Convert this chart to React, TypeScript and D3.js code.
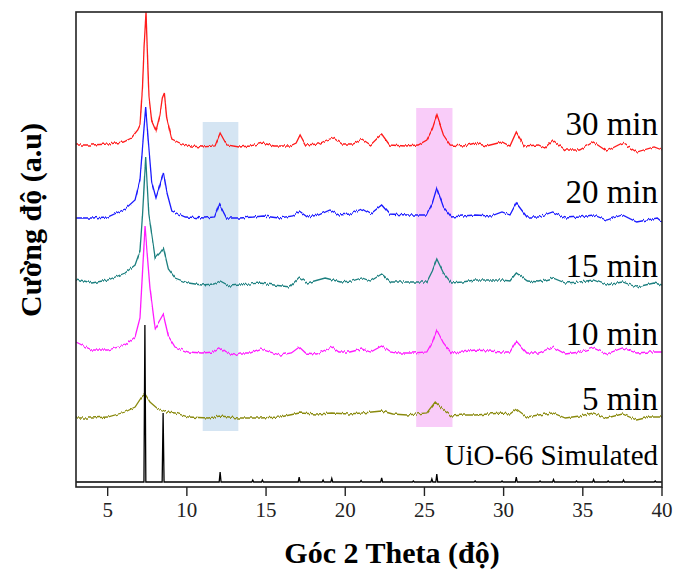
import React from "react";
import * as d3 from "d3";

// ---- Data (2θ in degrees, stacked intensity in a.u.) ----
const xTicks = [5, 10, 15, 20, 25, 30, 35, 40];

const s30: [number, number][] = [
  [3.0, 342], [4.0, 342], [5.0, 343], [6.0, 345], [6.5, 349], [6.9, 357], [7.04, 362], [7.2, 400], [7.3, 440],
  [7.42, 475], [7.55, 415], [7.61, 390], [7.78, 366], [8.05, 356], [8.3, 372], [8.45, 389], [8.58, 394],
  [8.73, 369], [9.05, 348], [9.68, 343], [10.3, 341], [10.94, 340], [11.78, 341], [12.1, 354], [12.52, 342],
  [13.3, 340], [14.0, 341], [14.8, 344], [15.5, 341], [16.5, 341], [16.9, 344], [17.15, 352], [17.5, 342],
  [18.3, 343], [18.84, 347], [19.25, 349], [19.8, 343], [20.5, 343], [21.05, 348], [21.6, 342], [22.3, 353],
  [22.8, 342], [23.8, 341], [24.6, 342], [25.15, 347], [25.5, 358], [25.78, 372], [26.2, 352], [26.63, 342],
  [27.5, 341], [28.2, 344], [28.9, 341], [29.9, 345], [30.4, 341], [30.8, 355], [31.3, 341], [32.2, 342],
  [32.6, 339], [33.1, 347], [33.9, 337], [34.8, 337], [35.66, 345], [36.5, 336], [37.5, 344], [38.4, 335],
  [39.5, 340], [40.0, 337],
];

const s20: [number, number][] = [
  [3.0, 269], [4.0, 269], [5.0, 270], [6.1, 278], [6.73, 287], [7.04, 307], [7.2, 340], [7.4, 380], [7.61, 337],
  [7.78, 305], [8.05, 289], [8.3, 302], [8.52, 314], [8.73, 295], [9.05, 276], [9.9, 270], [11.15, 269],
  [11.75, 270], [12.05, 283], [12.5, 269], [13.36, 269], [14.2, 270], [14.83, 271], [15.8, 269], [16.7, 271],
  [17.1, 276], [17.6, 270], [18.3, 272], [19.04, 277], [19.6, 272], [20.3, 273], [21.05, 278], [21.6, 273],
  [22.3, 282], [22.8, 273], [23.9, 272], [24.8, 272], [25.15, 272], [25.5, 284], [25.78, 299], [26.2, 280],
  [26.7, 270], [27.4, 271], [28.2, 272], [29.2, 271], [29.9, 275], [30.4, 272], [30.8, 284], [31.47, 270],
  [32.2, 270], [33.1, 275], [33.9, 269], [34.8, 270], [35.66, 272], [36.5, 267], [37.5, 272], [38.4, 265],
  [39.7, 269], [40.0, 265],
];

const s15: [number, number][] = [
  [3.0, 208], [4.0, 204], [5.0, 207], [6.1, 214], [6.73, 222], [7.04, 236], [7.2, 272], [7.4, 330], [7.6, 272],
  [8.0, 229], [8.3, 234], [8.52, 239], [8.83, 218], [9.25, 209], [10.1, 204], [10.94, 202], [11.7, 203],
  [12.1, 206], [12.7, 201], [13.36, 202], [14.6, 204], [15.5, 202], [16.5, 200], [17.1, 210], [17.6, 204],
  [18.73, 209], [19.7, 205], [20.4, 206], [21.05, 209], [21.6, 206], [22.3, 213], [22.9, 205], [23.9, 205],
  [24.8, 205], [25.15, 205], [25.5, 216], [25.78, 228], [26.2, 214], [26.7, 204], [27.4, 205], [28.2, 207],
  [29.9, 207], [30.4, 206], [30.8, 214], [31.5, 206], [32.2, 205], [33.1, 209], [33.9, 204], [34.8, 205],
  [35.66, 207], [36.5, 202], [37.5, 205], [38.4, 200], [39.5, 204], [40.0, 202],
];

const s10: [number, number][] = [
  [3.0, 145], [4.0, 137], [5.0, 137], [6.1, 142], [6.73, 150], [7.04, 169], [7.2, 215], [7.36, 261], [7.5, 232],
  [7.67, 199], [8.0, 158], [8.3, 166], [8.52, 172], [8.83, 151], [9.25, 140], [10.1, 135], [10.94, 134],
  [11.7, 135], [12.1, 139], [12.5, 134], [13.0, 132], [13.36, 134], [14.0, 134], [14.6, 138], [15.9, 132],
  [16.6, 134], [17.1, 140], [17.5, 134], [18.2, 133], [19.15, 140], [19.6, 135], [20.3, 135], [21.05, 138],
  [21.6, 135], [22.3, 141], [22.8, 135], [23.26, 134], [24.3, 134], [25.15, 135], [25.5, 145], [25.78, 157],
  [26.2, 144], [26.7, 134], [27.4, 135], [28.2, 137], [29.9, 135], [30.4, 135], [30.8, 146], [31.47, 134],
  [32.2, 134], [33.1, 140], [33.9, 133], [34.8, 135], [35.66, 139], [36.5, 133], [37.5, 139], [38.4, 134],
  [39.2, 135], [40.0, 135],
];

const s5: [number, number][] = [
  [3.0, 69], [4.0, 69], [5.0, 70], [6.1, 75], [6.73, 80], [7.15, 90], [7.36, 93], [7.67, 85], [8.1, 79],
  [8.45, 77], [8.73, 75], [9.25, 74], [10.1, 70], [11.36, 69], [12.1, 71], [13.25, 69], [14.6, 69],
  [15.9, 70], [17.1, 74], [18.2, 73], [19.15, 74], [20.2, 73], [21.05, 74], [22.3, 76], [23.0, 73],
  [23.9, 72], [25.15, 74], [25.68, 85], [26.2, 77], [26.7, 71], [27.5, 72], [28.2, 72], [29.9, 74],
  [30.4, 73], [30.8, 78], [31.47, 70], [32.2, 72], [33.1, 74], [33.9, 69], [34.8, 71], [35.66, 74],
  [36.5, 69], [37.5, 73], [38.4, 67], [39.2, 70], [40.0, 70],
];

// Simulated UiO-66 reflections: [2θ, height above baseline]
const simBase = 5;
const simPeaks: [number, number][] = [
  [7.35, 157], [8.5, 69], [12.1, 10], [14.16, 2], [14.77, 2], [17.09, 5], [18.6, 2], [19.15, 3.5],
  [21.0, 1.5], [22.3, 4], [24.3, 1], [25.47, 3], [25.78, 8], [28.2, 1], [29.9, 1], [30.8, 5], [32.3, 1],
  [33.15, 2.5], [34.6, 1], [35.68, 2.5], [36.6, 1], [37.57, 2], [39.57, 1],
];

const seriesLabels = ["30 min", "20 min", "15 min", "10 min", "5 min"];
const seriesColors = ["#ff1a1a", "#1a1aff", "#1f8080", "#ff1aff", "#8a8a10"];
const seriesData = [s30, s20, s15, s10, s5];
const labelValues = [352, 284, 210, 142, 77]; // label baseline positions (a.u.)
const simLabel = "UiO-66 Simulated";
const simLabelValue = 22;

// Highlight bands: [x0, x1, y0, y1]
const bands: { x0: number; x1: number; y0: number; y1: number; color: string }[] = [
  { x0: 11.0, x1: 13.25, y0: 56, y1: 365, color: "#d5e5f3" },
  { x0: 24.48, x1: 26.77, y0: 60, y1: 379, color: "#f9ccf9" },
];

const W = 675;
const H = 576;
const M = { left: 76, right: 662, top: 12, bottom: 487 };
const FONT = "'Liberation Serif', 'Times New Roman', serif";

export default function App() {
  const x = d3.scaleLinear().domain([3, 40]).range([M.left, M.right]);
  const y = d3.scaleLinear().domain([0, 475]).range([M.bottom, M.top]);
  const line = d3
    .line<[number, number]>()
    .x((d) => x(d[0]))
    .y((d) => y(d[1]));

  const simPts: [number, number][] = [[3, simBase]];
  simPeaks.forEach(([p, h]) => {
    simPts.push([p - 0.06, simBase], [p, simBase + h], [p + 0.06, simBase]);
  });
  simPts.push([40, simBase]);

  return (
    <svg
      width={W}
      height={H}
      style={{ position: "absolute", left: 0, top: 0, background: "#fff" }}
      fontFamily={FONT}
    >
      <defs>
        <clipPath id="plotClip">
          <rect x={M.left} y={M.top} width={M.right - M.left} height={M.bottom - M.top} />
        </clipPath>
        <filter id="noise" x="-2%" y="-10%" width="104%" height="120%">
          <feTurbulence type="fractalNoise" baseFrequency="0.7 0.03" numOctaves="1" seed="3" result="t" />
          <feColorMatrix
            in="t"
            type="matrix"
            values="0 0 0 0 0.5  0 1 0 0 0  0 0 0 0 0  0 0 0 0 1"
            result="m"
          />
          <feDisplacementMap in="SourceGraphic" in2="m" scale="4" xChannelSelector="R" yChannelSelector="G" />
        </filter>
      </defs>

      {bands.map((b, i) => (
        <rect
          key={i}
          x={x(b.x0)}
          y={y(b.y1)}
          width={x(b.x1) - x(b.x0)}
          height={y(b.y0) - y(b.y1)}
          fill={b.color}
        />
      ))}

      <g clipPath="url(#plotClip)">
        <g filter="url(#noise)">
          {seriesData.map((s, i) => (
            <path key={i} d={line(s) || ""} fill="none" stroke={seriesColors[i]} strokeWidth={1.3} />
          ))}
        </g>
        <path d={line(simPts) || ""} fill="none" stroke="#000" strokeWidth={1.3} />
      </g>

      {seriesLabels.map((l, i) => (
        <text key={l} x={658} y={y(labelValues[i])} textAnchor="end" fontSize={33} fill="#000">
          {l}
        </text>
      ))}
      <text x={658} y={y(simLabelValue)} textAnchor="end" fontSize={29} fill="#000">
        {simLabel}
      </text>

      {/* frame */}
      <rect
        x={M.left}
        y={M.top}
        width={M.right - M.left}
        height={M.bottom - M.top}
        fill="none"
        stroke="#222"
        strokeWidth={1.6}
      />

      {/* x ticks */}
      {xTicks.map((t) => (
        <g key={t} transform={`translate(${x(t)},${M.bottom})`}>
          <line y1={0} y2={9} stroke="#222" strokeWidth={1.4} />
          <text y={30} textAnchor="middle" fontSize={21} fill="#222">
            {t}
          </text>
        </g>
      ))}

      <text x={392} y={563} textAnchor="middle" fontSize={30} fontWeight="bold" fill="#000">
        Góc 2 Theta (độ)
      </text>
      <text
        transform={`translate(41,220) rotate(-90)`}
        textAnchor="middle"
        fontSize={30}
        fontWeight="bold"
        fill="#000"
      >
        Cường độ (a.u)
      </text>
    </svg>
  );
}
